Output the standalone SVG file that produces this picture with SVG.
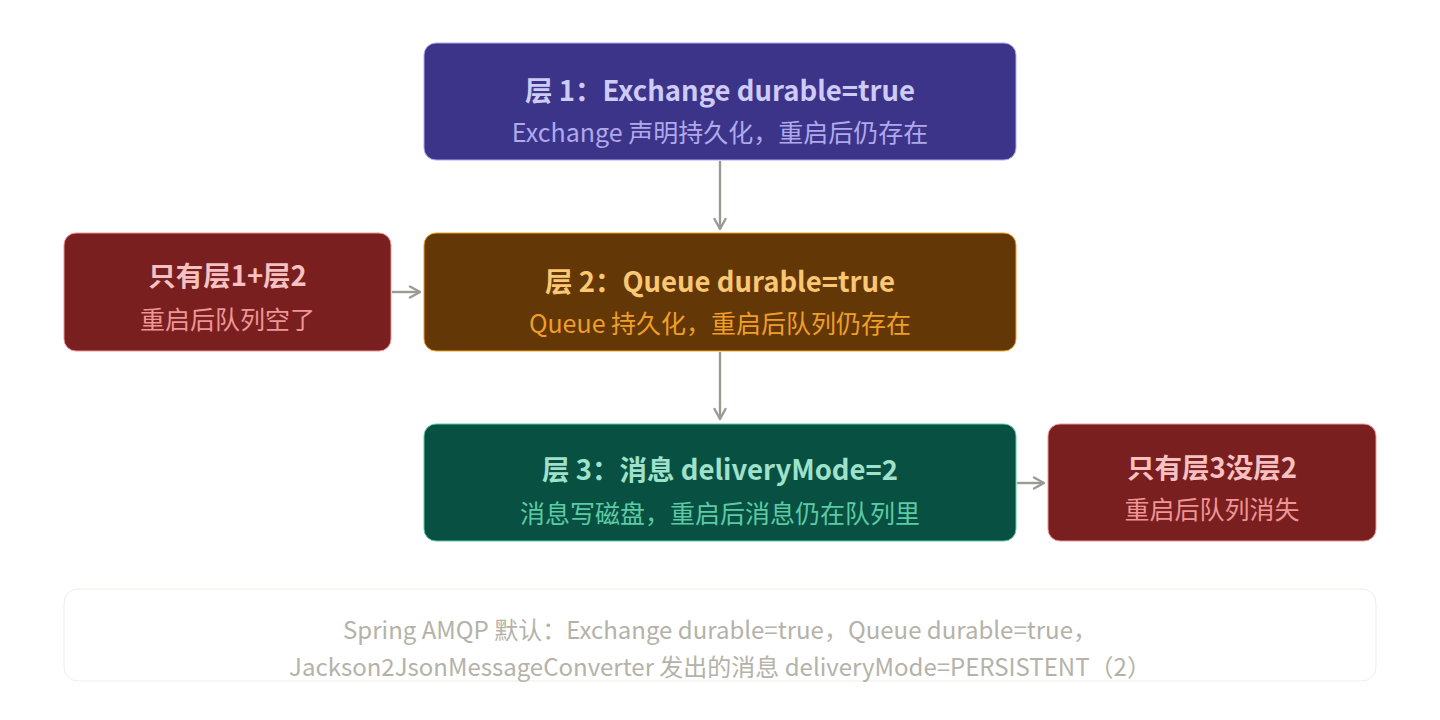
<svg xmlns="http://www.w3.org/2000/svg" width="1440" height="720" viewBox="0 0 1440 720">
<defs>
<marker id="arr" viewBox="0 0 14 14" refX="12" refY="7" markerWidth="14" markerHeight="14" markerUnits="userSpaceOnUse" orient="auto">
<path d="M2,1.500 L12,7 L2,12.500" fill="none" stroke="#9c9a92" stroke-width="2.400" stroke-linecap="round" stroke-linejoin="round"/>
</marker>
</defs>
<style>
text{font-family:"Noto Sans CJK SC","Noto Sans",sans-serif;text-anchor:middle;dominant-baseline:central}
.t{font-size:27.500px;font-weight:700}
.s{font-size:25px;font-weight:400}
.n{font-size:24px;fill:#b4b2a9}
.conn{stroke:#9c9a92;stroke-width:2.400;fill:none}
</style>
<rect width="1440" height="720" fill="#ffffff"/>
<g id="connectors">
<line class="conn" x1="720" y1="161" x2="720" y2="229" marker-end="url(#arr)"/>
<line class="conn" x1="720" y1="352" x2="720" y2="419" marker-end="url(#arr)"/>
<line class="conn" x1="392" y1="292" x2="420" y2="292" marker-end="url(#arr)"/>
<line class="conn" x1="1017" y1="483" x2="1044" y2="483" marker-end="url(#arr)"/>
</g>
<g id="layer1">
<rect x="424" y="43" width="592" height="117" rx="12" fill="#3c3489" stroke="#afa9ec" stroke-width="1"/>
<text class="t" x="720" y="89" fill="#cecbf6">层 1：Exchange durable=true</text>
<text class="s" x="720" y="131" fill="#afa9ec">Exchange 声明持久化，重启后仍存在</text>
</g>
<g id="layer2">
<rect x="424" y="233" width="592" height="118" rx="12" fill="#633806" stroke="#ef9f27" stroke-width="1"/>
<text class="t" x="720" y="280" fill="#fac775">层 2：Queue durable=true</text>
<text class="s" x="720" y="322" fill="#ef9f27">Queue 持久化，重启后队列仍存在</text>
</g>
<g id="only12">
<rect x="64" y="233" width="327" height="118" rx="12" fill="#791f1f" stroke="#f09595" stroke-width="1"/>
<text class="t" x="227.500" y="274" fill="#f7c1c1">只有层1+层2</text>
<text class="s" x="227.500" y="318" fill="#f09595">重启后队列空了</text>
</g>
<g id="layer3">
<rect x="424" y="424" width="592" height="117" rx="12" fill="#085041" stroke="#5dcaa5" stroke-width="1"/>
<text class="t" x="720" y="468" fill="#9fe1cb">层 3：消息 deliveryMode=2</text>
<text class="s" x="720" y="512" fill="#5dcaa5">消息写磁盘，重启后消息仍在队列里</text>
</g>
<g id="only3">
<rect x="1048" y="424" width="328" height="117" rx="12" fill="#791f1f" stroke="#f09595" stroke-width="1"/>
<text class="t" x="1212" y="466" fill="#f7c1c1">只有层3没层2</text>
<text class="s" x="1212" y="508" fill="#f09595">重启后队列消失</text>
</g>
<g id="note">
<rect x="64" y="589" width="1312" height="92" rx="14" fill="#ffffff" stroke="#eeede8" stroke-width="1"/>
<text class="n" x="720" y="628">Spring AMQP 默认：Exchange durable=true，Queue durable=true，</text>
<text class="n" x="720" y="665">Jackson2JsonMessageConverter 发出的消息 deliveryMode=PERSISTENT（2）</text>
</g>
</svg>
